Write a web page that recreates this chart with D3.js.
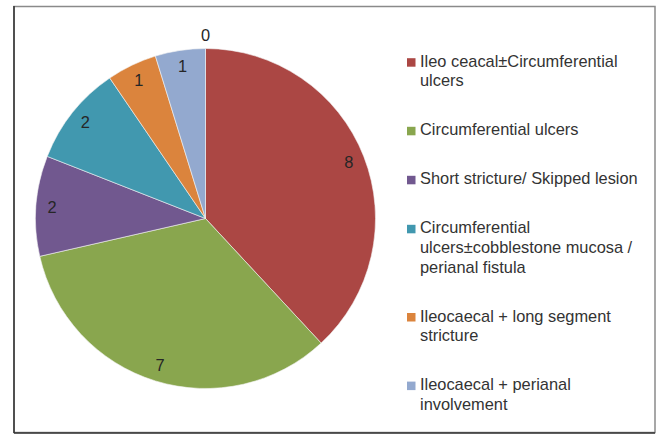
<!DOCTYPE html>
<html>
<head>
<meta charset="utf-8">
<script src="https://cdn.jsdelivr.net/npm/d3@7"></script>
<style>
  body { margin: 0; background: #fff; }
  svg { display: block; font-family: "Liberation Sans", Arial, sans-serif; }
</style>
</head>
<body>
<div id="chart"></div>
<script>
// pie of lesion patterns
const categories = [
    ["Ileo ceacal\u00b1Circumferential", "ulcers"],
    ["Circumferential ulcers"],
    ["Short stricture/ Skipped lesion"],
    ["Circumferential", "ulcers\u00b1cobblestone mucosa /", "perianal fistula"],
    ["Ileocaecal + long segment", "stricture"],
    ["Ileocaecal + perianal", "involvement"],
    [] // seventh slice with 0 cases, not named in the legend
];
const counts = [8, 7, 2, 2, 1, 1, 0];
const colors = ["#ab4744", "#89a64e", "#71588f", "#4198af", "#db843d", "#93a9cf", "#a8423f"];

const width = 660, height = 434;
const cx = 205.5, cy = 218.5, radius = 170;

const svg = d3.select("#chart").append("svg")
    .attr("width", width)
    .attr("height", height);

// frame
svg.append("rect").attr("x", 14).attr("y", 6.5).attr("width", 641).attr("height", 426)
    .attr("fill", "none").attr("stroke", "#8a8a8a").attr("stroke-width", 1.5);
svg.append("line").attr("x1", 14).attr("x2", 14).attr("y1", 6).attr("y2", 433)
    .attr("stroke", "#333").attr("stroke-width", 1.5);
svg.append("line").attr("x1", 14).attr("x2", 655).attr("y1", 433).attr("y2", 433)
    .attr("stroke", "#333").attr("stroke-width", 1.5);

const data = counts.map((v, i) => ({ name: categories[i], value: v, color: colors[i] }));

const pie = d3.pie().sort(null).value(d => d.value);
const arcs = pie(data);
const arc = d3.arc().innerRadius(0).outerRadius(radius);
const labelArc = d3.arc().innerRadius(radius * 0.905).outerRadius(radius * 0.905);
const outsideArc = d3.arc().innerRadius(radius + 13).outerRadius(radius + 13);

const g = svg.append("g").attr("transform", `translate(${cx},${cy})`);

g.selectAll("path.slice")
    .data(arcs.filter(d => d.value > 0))
    .enter()
    .append("path")
    .attr("class", "slice")
    .attr("d", arc)
    .attr("fill", d => d.data.color)
    .attr("stroke", "#f4f4f4")
    .attr("stroke-width", 0.6);

g.selectAll("text.val")
    .data(arcs)
    .enter()
    .append("text")
    .attr("class", "val")
    .attr("transform", d => `translate(${(d.value > 0 ? labelArc : outsideArc).centroid(d)})`)
    .attr("text-anchor", "middle")
    .attr("dy", "0.36em")
    .attr("font-size", "16.4px")
    .attr("fill", "#262626")
    .text(d => d.value);

// legend
const legend = svg.append("g").attr("transform", "translate(407,0)");
let baseline = 66.7;
data.filter(d => d.name.length > 0).forEach(d => {
    legend.append("rect")
        .attr("x", 0).attr("y", baseline - 8.5)
        .attr("width", 8.5).attr("height", 8.5)
        .attr("fill", d.color);
    const t = legend.append("text")
        .attr("x", 13).attr("y", baseline)
        .attr("font-size", "16.4px")
        .attr("fill", "#333");
    d.name.forEach((line, j) => {
        t.append("tspan").attr("x", 13).attr("y", baseline + j * 19.6).text(line);
    });
    baseline += (d.name.length - 1) * 19.6 + 49;
});
</script>
</body>
</html>
